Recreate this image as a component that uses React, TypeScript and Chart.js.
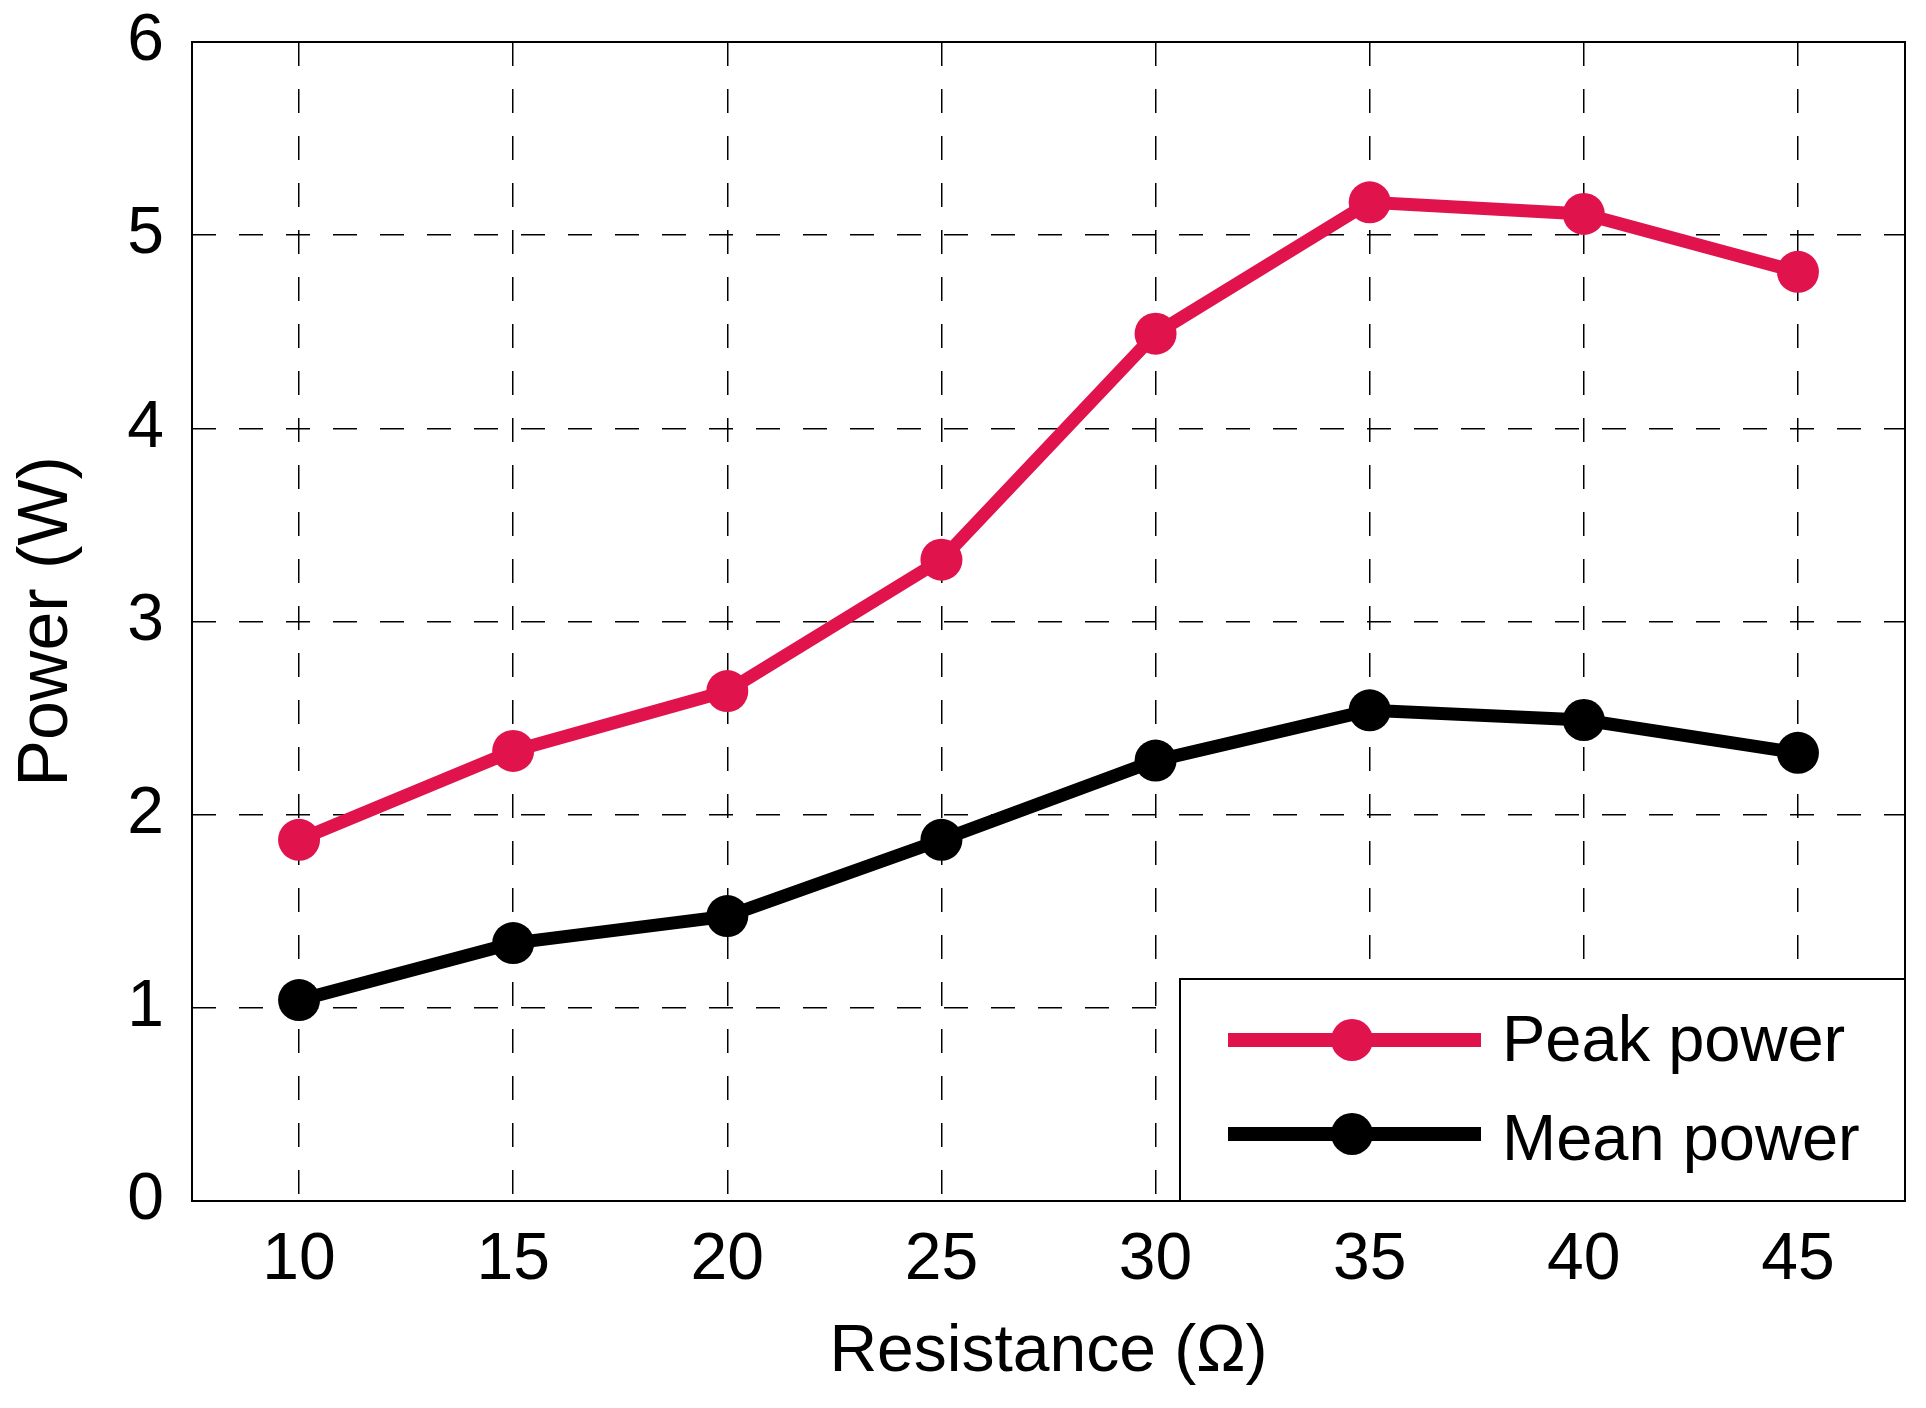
import React, { useEffect, useRef } from "react";
import { Chart, registerables } from "chart.js";

Chart.register(...registerables);

const categories = ["10", "15", "20", "25", "30", "35", "40", "45"];
const peakPower = [1.87, 2.33, 2.64, 3.32, 4.49, 5.17, 5.11, 4.81];
const meanPower = [1.04, 1.335, 1.475, 1.87, 2.28, 2.54, 2.49, 2.32];
const seriesNames = ["Peak power", "Mean power"];
const seriesColors = ["#E0134D", "#000000"];
const yTitle = "Power (W)";
const xTitle = "Resistance (Ω)";

const FONT = "'Liberation Sans', Arial, sans-serif";

const framePlugin = {
  id: "frame",
  afterDatasetsDraw(chart: any) {
    const { ctx, chartArea: a } = chart;
    ctx.save();
    ctx.strokeStyle = "#000";
    ctx.lineWidth = 2;
    ctx.setLineDash([]);
    ctx.strokeRect(a.left, a.top, a.right - a.left, a.bottom - a.top);
    ctx.restore();
  },
};

const legendPlugin = {
  id: "boxLegend",
  afterDraw(chart: any) {
    const { ctx, chartArea: a } = chart;
    const x0 = 1180;
    const y0 = 979;
    ctx.save();
    ctx.fillStyle = "#fff";
    ctx.fillRect(x0, y0, a.right - x0, a.bottom - y0);
    ctx.strokeStyle = "#000";
    ctx.lineWidth = 2;
    ctx.strokeRect(x0, y0, a.right - x0, a.bottom - y0);
    const rows = [1040, 1134];
    chart.data.datasets.forEach((ds: any, i: number) => {
      const y = rows[i];
      ctx.strokeStyle = ds.borderColor;
      ctx.lineWidth = 14;
      ctx.beginPath();
      ctx.moveTo(1228, y);
      ctx.lineTo(1481, y);
      ctx.stroke();
      ctx.fillStyle = ds.borderColor;
      ctx.beginPath();
      ctx.arc(1352, y, 21, 0, Math.PI * 2);
      ctx.fill();
      ctx.fillStyle = "#000";
      ctx.font = `65px ${FONT}`;
      ctx.textBaseline = "middle";
      ctx.textAlign = "left";
      ctx.fillText(ds.label, 1502, y + 3 + i * 5);
    });
    ctx.restore();
  },
};

export default function App() {
  const ref = useRef<HTMLCanvasElement | null>(null);
  useEffect(() => {
    if (!ref.current) return;
    const chart = new Chart(ref.current, {
      type: "line",
      data: {
        labels: categories,
        datasets: [
          {
            label: seriesNames[0],
            data: peakPower,
            borderColor: seriesColors[0],
            backgroundColor: seriesColors[0],
            borderWidth: 13,
            pointRadius: 21,
            pointBorderWidth: 0,
            pointBackgroundColor: seriesColors[0],
            tension: 0,
          },
          {
            label: seriesNames[1],
            data: meanPower,
            borderColor: seriesColors[1],
            backgroundColor: seriesColors[1],
            borderWidth: 13,
            pointRadius: 21,
            pointBorderWidth: 0,
            pointBackgroundColor: seriesColors[1],
            tension: 0,
          },
        ],
      },
      options: {
        animation: false,
        responsive: false,
        devicePixelRatio: 1,
        layout: { padding: { top: 42, right: 20, bottom: 0, left: 0 } },
        plugins: { legend: { display: false }, tooltip: { enabled: false } },
        scales: {
          x: {
            offset: true,
            grid: {
              offset: false,
              color: "#000",
              lineWidth: 1.5,
              drawTicks: false,
            },
            border: { display: false, dash: [24, 23] },
            ticks: {
              color: "#000",
              font: { family: FONT, size: 66 },
              padding: 20,
              maxRotation: 0,
            },
            title: {
              display: true,
              text: xTitle,
              color: "#000",
              font: { family: FONT, size: 66 },
              padding: { top: 0, bottom: 16 },
            },
            afterFit(scale: any) {
              scale.height = 207;
              scale.paddingLeft = 0;
              scale.paddingRight = 0;
            },
          },
          y: {
            min: 0,
            max: 6,
            grid: {
              color: "#000",
              lineWidth: 1.5,
              drawTicks: false,
            },
            border: { display: false, dash: [24, 23] },
            ticks: {
              stepSize: 1,
              color: "#000",
              font: { family: FONT, size: 66 },
              padding: 28,
            },
            title: {
              display: true,
              text: yTitle,
              color: "#000",
              font: { family: FONT, size: 70 },
              padding: { top: 6, bottom: 0 },
            },
            afterFit(scale: any) {
              scale.width = 192;
              scale.paddingTop = 0;
              scale.paddingBottom = 0;
            },
          },
        },
      },
      plugins: [framePlugin, legendPlugin],
    });
    return () => chart.destroy();
  }, []);
  return (
    <div style={{ position: "fixed", left: 0, top: 0, width: 1926, height: 1408, background: "#fff" }}>
      <canvas ref={ref} width={1926} height={1408} style={{ width: 1926, height: 1408, display: "block" }} />
    </div>
  );
}
